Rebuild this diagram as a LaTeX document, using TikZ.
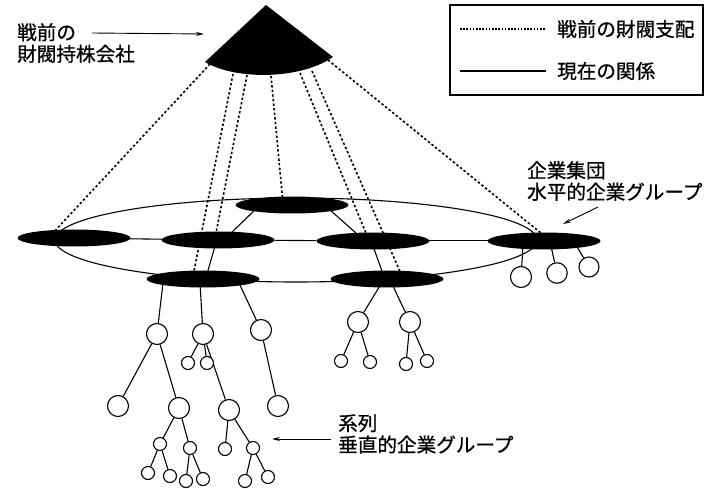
\documentclass[tikz,border=0pt]{standalone}
\usepackage{fontspec}
\setmainfont{Noto Sans CJK JP}[FakeBold=0.8]
\usetikzlibrary{shapes.geometric,arrows.meta}
\pgfdeclarelayer{bg}
\pgfsetlayers{bg,main}
\tikzset{
 blob/.style={ellipse, fill=black, inner sep=0pt, minimum width=113pt, minimum height=17pt},
 bigc/.style={circle, draw, fill=white, line width=1.1pt, inner sep=0pt, minimum size=21pt},
 smallc/.style={circle, draw, fill=white, line width=1.1pt, inner sep=0pt, minimum size=13pt},
 link/.style={line width=1.1pt},
 ctrl/.style={line width=1.6pt, dash pattern=on 2.4pt off 2.2pt},
 lbl/.style={font=\fontsize{19.6}{21.5}\selectfont, inner sep=0pt, align=left, anchor=west},
 arr/.style={line width=0.9pt, -{Stealth[length=8pt,width=4pt]}},
}
\begin{document}
\begin{tikzpicture}[x=1pt,y=-1pt]
\useasboundingbox (0,0) rectangle (716,489);
% holding company (sector)
\fill (266,5) -- (205,62) .. controls (235,80) and (300,80) .. (333,57) -- cycle;
% group companies
\node[blob] (FL) at (74,238) {};
\node[blob] (ML) at (218,240) {};
\node[blob] (T)  at (292,205) {};
\node[blob] (LL) at (203,279) {};
\node[blob] (MR) at (373,241) {};
\node[blob] (LR) at (387,279) {};
\node[blob] (FR) at (544,241) {};
% keiretsu trees
\node[bigc] (A) at (157,334) {};
\node[bigc] (B) at (203,334) {};
\node[bigc] (C) at (261,330) {};
\node[bigc] (A1) at (118,406) {};
\node[bigc] (A2) at (179,408) {};
\node[bigc] (D) at (229,410) {};
\node[bigc] (C1) at (278,406) {};
\node[smallc] (B1) at (188,363) {};
\node[smallc] (B2) at (207,363) {};
\node[smallc] (A21) at (160,444) {};
\node[smallc] (A22) at (190,448) {};
\node[smallc] (A211) at (148,473) {};
\node[smallc] (A212) at (170,476) {};
\node[smallc] (A221) at (186,481) {};
\node[smallc] (A222) at (203,479) {};
\node[smallc] (D1) at (225,449) {};
\node[smallc] (D2) at (253,448) {};
\node[smallc] (D21) at (245,481) {};
\node[smallc] (D22) at (268,477) {};
\node[bigc] (E) at (358,322) {};
\node[bigc] (F) at (410,322) {};
\node[smallc] (E1) at (341,361) {};
\node[smallc] (E2) at (370,362) {};
\node[smallc] (F1) at (406,364) {};
\node[smallc] (F2) at (427,361) {};
\node[bigc] (G) at (521,277) {};
\node[bigc, minimum size=20.5pt] (H) at (557,273) {};
\node[bigc, minimum size=20pt] (I) at (589,267) {};
% coordinates
\coordinate (s1) at (210,64);  \coordinate (e1) at (52,234);
\coordinate (s2) at (233,74);  \coordinate (e2) at (193,276);
\coordinate (s3) at (247,75);  \coordinate (e3) at (215,238);
\coordinate (s4) at (271,76);  \coordinate (e4) at (283,203);
\coordinate (s5) at (300,73);  \coordinate (e5) at (368,238);
\coordinate (s6) at (312,71);  \coordinate (e6) at (402,276);
\coordinate (s7) at (328,60);  \coordinate (e7) at (547,238);
\coordinate (t1) at (256,209); \coordinate (m1) at (230,234);
\coordinate (t2) at (329,209); \coordinate (m2) at (357,234);
\coordinate (m3) at (215,246); \coordinate (l1) at (207,274);
\coordinate (m4) at (373,246); \coordinate (l2) at (383,274);
\coordinate (ll1) at (163,283); \coordinate (ll2) at (200,283); \coordinate (ll3) at (239,283);
\coordinate (lr1) at (381,284); \coordinate (lr2) at (392,284);
\coordinate (fr1) at (523,246); \coordinate (fr2) at (551,246); \coordinate (fr3) at (576,245);
\begin{pgfonlayer}{bg}
 \node[ellipse, draw, line width=1.1pt, inner sep=0pt, minimum width=482pt, minimum height=84pt] (ring) at (296,240) {};
 \foreach \i in {1,...,7} \draw[ctrl] (s\i) -- (e\i);
 \draw[link] (FL) -- (ML);
 \draw[link] (ML) -- (MR);
 \draw[link] (MR.center) ++(0,-0.5) -- ([yshift=0.5pt]FR.center);
 \draw[link] (t1) -- (m1);
 \draw[link] (t2) -- (m2);
 \draw[link] (m3) -- (l1);
 \draw[link] (m4) -- (l2);
 \draw[link] (ll1) -- (A);
 \draw[link] (ll2) -- (B);
 \draw[link] (ll3) -- (C);
 \draw[link] (A) -- (A1);
 \draw[link] (A) -- (A2);
 \draw[link] (A2) -- (A21);
 \draw[link] (A2) -- (A22);
 \draw[link] (A21) -- (A211);
 \draw[link] (A21) -- (A212);
 \draw[link] (A22) -- (A221);
 \draw[link] (A22) -- (A222);
 \draw[link] (B) -- (B1);
 \draw[link] (B) -- (B2);
 \draw[link] (B) -- (D);
 \draw[link] (D) -- (D1);
 \draw[link] (D) -- (D2);
 \draw[link] (D2) -- (D21);
 \draw[link] (D2) -- (D22);
 \draw[link] (C) -- (C1);
 \draw[link] (lr1) -- (E);
 \draw[link] (lr2) -- (F);
 \draw[link] (E) -- (E1);
 \draw[link] (E) -- (E2);
 \draw[link] (F) -- (F1);
 \draw[link] (F) -- (F2);
 \draw[link] (fr1) -- (G);
 \draw[link] (fr2) -- (H);
 \draw[link] (fr3) -- (I);
\end{pgfonlayer}
% labels
\node[lbl] (hc) at (17,43) {戦前の\\財閥持株会社};
\coordinate (hcA) at (92,33); \coordinate (hcB) at (204,34);
\draw[arr] (hcA) -- (hcB);
\node[lbl] (grp) at (527,181) {企業集団\\水平的企業グループ};
\coordinate (grA) at (598,207); \coordinate (grB) at (563,224);
\draw[arr] (grA) -- (grB);
\node[lbl] (kei) at (338,434) {系列\\垂直的企業グループ};
\coordinate (keA) at (331,439); \coordinate (keB) at (272,439);
\draw[arr] (keA) -- (keB);
% legend
\node[draw, line width=1.3pt, minimum width=253pt, minimum height=90pt, inner sep=0pt] (legend) at (576.5,50) {};
\coordinate (lg1a) at (460,29); \coordinate (lg1b) at (545,29);
\coordinate (lg2a) at (460,71); \coordinate (lg2b) at (546,71);
\draw[line width=1.2pt, dash pattern=on 1.6pt off 1.6pt] (lg1a) -- (lg1b);
\draw[line width=1.1pt] (lg2a) -- (lg2b);
\node[lbl] (lgt1) at (557,29) {戦前の財閥支配};
\node[lbl] (lgt2) at (557,71) {現在の関係};
\end{tikzpicture}
\end{document}
